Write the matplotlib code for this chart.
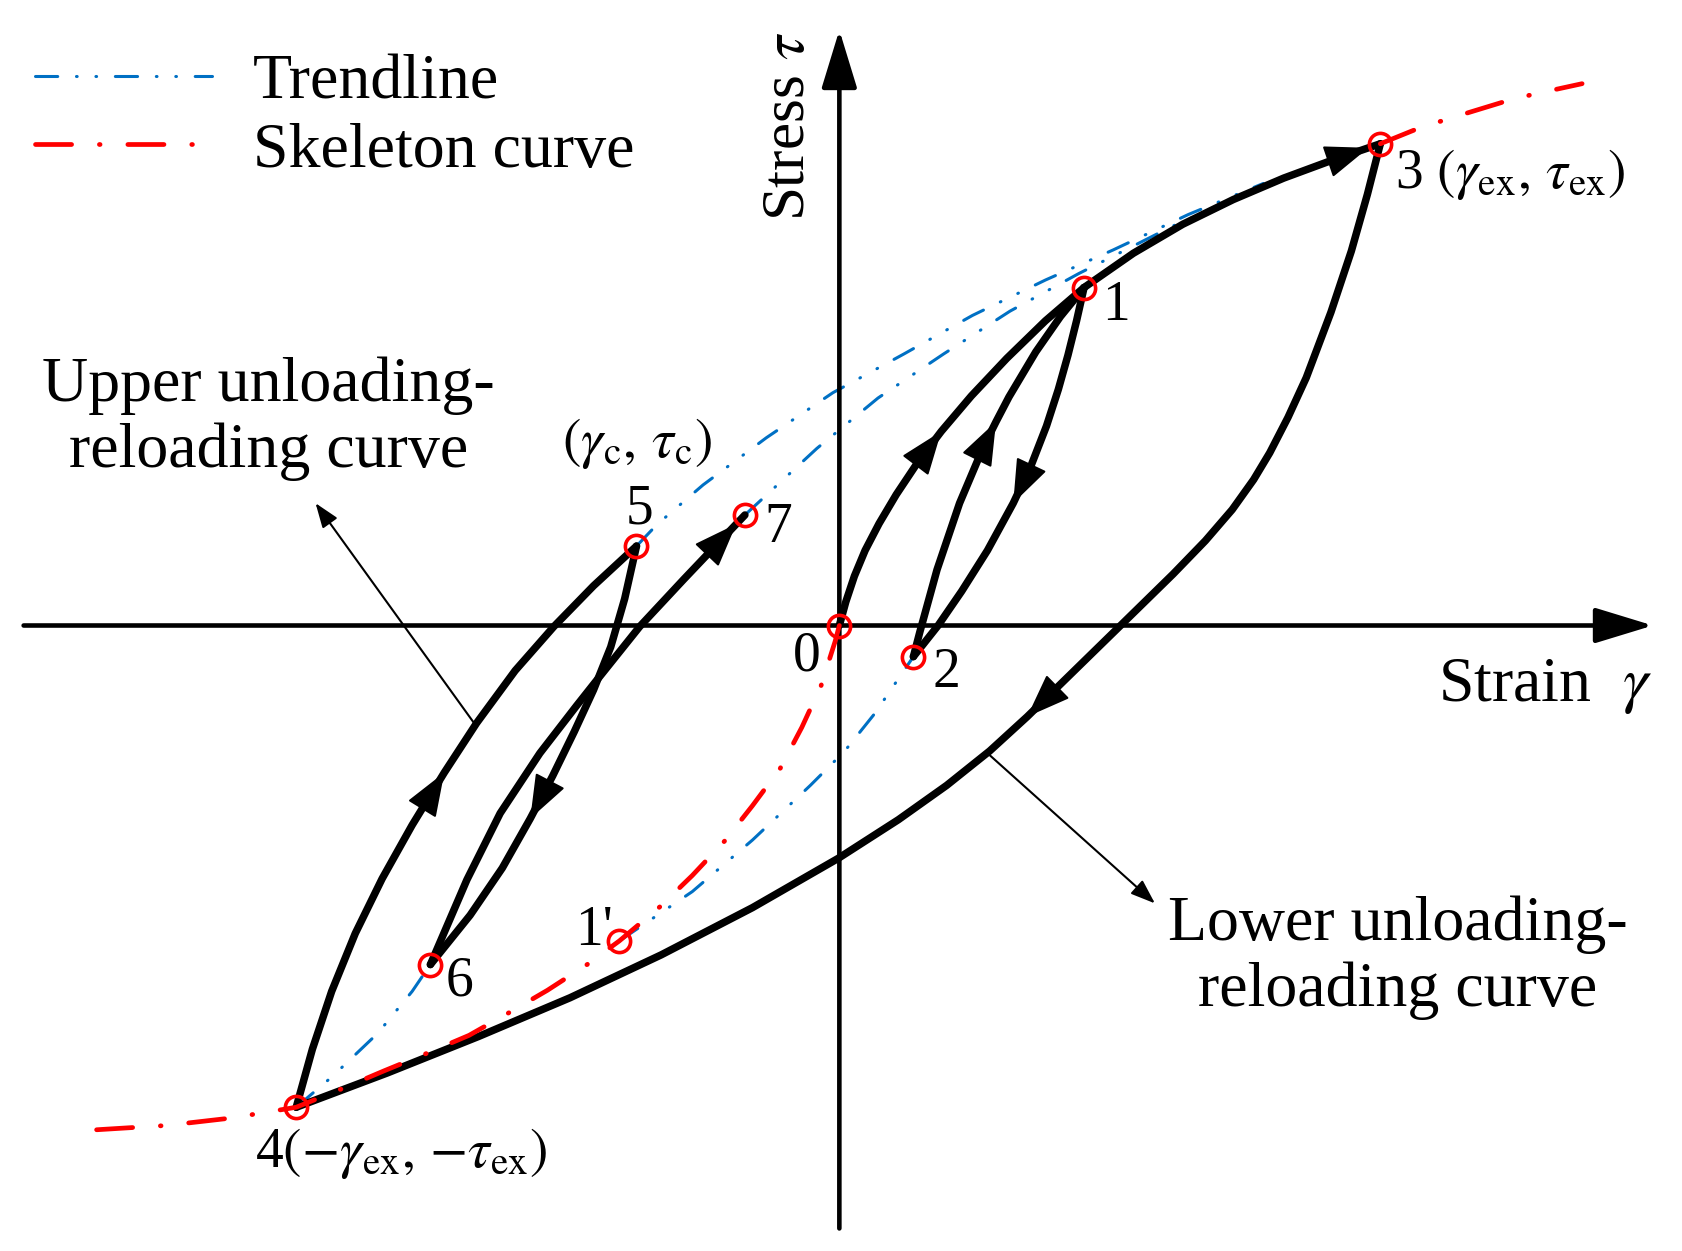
import numpy as np
import matplotlib.pyplot as plt

plt.rcParams['font.family'] = ['Liberation Serif', 'DejaVu Serif']
plt.rcParams['mathtext.fontset'] = 'stix'
plt.rcParams['lines.scale_dashes'] = False

# ------------------------------------------------------------
# schematic data (strain gamma, stress tau), arbitrary units
# ------------------------------------------------------------
pt_names = ['0', '1', '2', '3', '4', '5', '6', '7', "1'"]
pt_gamma = [0.00, 2.28, 0.69, 5.04, -5.06, -1.89, -3.81, -0.88, -2.05]
pt_tau = [0.00, 3.15, -0.29, 4.49, -4.49, 0.74, -3.16, 1.03, -2.94]

# loading 0 -> 1
c01_g = [0.00, 0.06, 0.14, 0.24, 0.37, 0.53, 0.73, 0.95, 1.23, 1.56, 1.92, 2.28]
c01_t = [0.00, 0.22, 0.46, 0.70, 0.95, 1.22, 1.52, 1.81, 2.14, 2.49, 2.84, 3.15]
# unloading 1 -> 2
c12_g = [2.28, 2.21, 2.13, 2.04, 1.93, 1.79, 1.62, 1.38, 1.14, 0.92, 0.69]
c12_t = [3.15, 2.84, 2.52, 2.20, 1.86, 1.50, 1.14, 0.70, 0.32, 0.00, -0.29]
# reloading 2 -> 1
c21_g = [0.69, 0.75, 0.91, 1.12, 1.34, 1.46, 1.58, 1.83, 2.06, 2.28]
c21_t = [-0.29, -0.06, 0.52, 1.14, 1.66, 1.90, 2.13, 2.55, 2.88, 3.15]
# loading 1 -> 3
c13_g = [2.28, 2.74, 3.20, 3.67, 4.14, 4.60, 5.04]
c13_t = [3.15, 3.47, 3.74, 3.97, 4.17, 4.34, 4.49]
# unloading 3 -> 4
c34_g = [5.04, 4.92, 4.77, 4.58, 4.35, 4.18, 4.01, 3.86, 3.66, 3.41, 3.11, 2.63,
         2.19, 1.75, 1.40, 1.00, 0.55, -0.01, -0.81, -1.66, -2.51, -3.36, -4.21, -5.06]
c34_t = [4.49, 4.02, 3.49, 2.92, 2.31, 1.94, 1.61, 1.36, 1.08, 0.79, 0.48, 0.01,
         -0.42, -0.85, -1.17, -1.49, -1.81, -2.17, -2.63, -3.07, -3.47, -3.83, -4.17, -4.49]
# reloading 4 -> 5
c45_g = [-5.06, -4.91, -4.73, -4.51, -4.26, -3.98, -3.68, -3.38, -3.02, -2.66, -2.29, -1.89]
c45_t = [-4.49, -3.95, -3.41, -2.87, -2.36, -1.86, -1.37, -0.91, -0.42, -0.01, 0.37, 0.74]
# unloading 5 -> 6
c56_g = [-1.89, -2.00, -2.13, -2.29, -2.47, -2.67, -2.88, -3.14, -3.44, -3.81]
c56_t = [0.74, 0.25, -0.20, -0.60, -0.99, -1.40, -1.80, -2.26, -2.70, -3.16]
# reloading 6 -> 7
c67_g = [-3.81, -3.47, -3.16, -2.79, -2.45, -2.26, -1.86, -1.45, -0.88]
c67_t = [-3.16, -2.37, -1.75, -1.19, -0.75, -0.51, -0.01, 0.43, 1.03]

# skeleton curve (visible parts)
skn_g = [-6.92, -6.27, -5.66, -5.06, -4.64, -4.24, -3.85, -3.45, -3.08, -2.72, -2.35,
         -2.05, -1.67, -1.37, -1.07, -0.81, -0.55, -0.35, -0.17, -0.04, 0.00]
skn_t = [-4.70, -4.66, -4.59, -4.49, -4.32, -4.15, -3.99, -3.82, -3.61, -3.40, -3.16,
         -2.94, -2.62, -2.33, -2.01, -1.68, -1.33, -0.95, -0.56, -0.15, 0.00]
skp_g = [5.04, 5.41, 5.86, 6.22, 6.46, 6.92]
skp_t = [4.49, 4.64, 4.78, 4.89, 4.95, 5.05]

# trendlines
tra_g = [-1.89, -1.70, -1.27, -0.68, -0.06, 0.60, 1.24, 1.92, 2.55, 3.25, 3.95]
tra_t = [0.74, 0.94, 1.31, 1.75, 2.17, 2.53, 2.89, 3.22, 3.50, 3.83, 4.12]
trb_g = [-0.88, -0.21, 0.36, 0.97, 1.59, 2.23, 3.10, 3.95]
trb_t = [1.03, 1.65, 2.12, 2.53, 2.93, 3.28, 3.72, 4.10]
trc_g = [-5.06, -4.72, -4.30, -3.98, -3.81]
trc_t = [-4.49, -4.20, -3.80, -3.41, -3.16]
trd_g = [-2.05, -1.37, -0.81, -0.27, 0.05, 0.33, 0.69]
trd_t = [-2.94, -2.48, -2.00, -1.49, -1.17, -0.82, -0.29]

# pointer arrows for the two curve names (tail, head)
ann_upper = [(-3.41, -0.90), (-4.88, 1.14)]
ann_lower = [(1.38, -1.19), (2.94, -2.59)]

# ------------------------------------------------------------
fig = plt.figure(figsize=(16.83, 12.51), dpi=100)
ax = fig.add_axes([0, 0, 1, 1])
ax.set_xlim(-7.82, 7.86)
ax.set_ylim(-5.83, 5.83)
ax.axis('off')

blue = '#0070C4'
red = '#FF0000'
lw_curve = 5.4

# axes with arrow heads
for tail, tip in [((-7.60, 0), (7.58, 0)), ((0, -5.62), (0, 5.55))]:
    ax.annotate('', xy=tip, xytext=tail,
                arrowprops=dict(arrowstyle='-|>,head_length=36,head_width=11', mutation_scale=1,
                                color='k', lw=3.3, shrinkA=0, shrinkB=0))

# trendlines
tr_style = dict(color=blue, lw=2.2, ls=(0, (16, 13.5, 0.5, 13.5, 0.5, 13.5)),
                dash_capstyle='round', zorder=2)
trend, = ax.plot(tra_g, tra_t, label='Trendline', **tr_style)
ax.plot(trb_g, trb_t, **tr_style)
ax.plot(trc_g, trc_t, **tr_style)
ax.plot(trd_g, trd_t, **tr_style)

# hysteresis curves: (gamma, tau, index of arrow tip, shrink at tip)
curves = [(c01_g, c01_t, 7, 0), (c21_g, c21_t, 5, 0), (c12_g, c12_t, 6, 0),
          (c13_g, c13_t, -1, 9), (c34_g, c34_t, 13, 0), (c45_g, c45_t, 6, 0),
          (c56_g, c56_t, 6, 0), (c67_g, c67_t, -1, 9)]
for g, t, k, shr in curves:
    ax.plot(g, t, color='k', lw=lw_curve, solid_joinstyle='round', solid_capstyle='round', zorder=3)
    k = k % len(g)
    ax.annotate('', xy=(g[k], t[k]), xytext=(g[k - 1], t[k - 1]),
                arrowprops=dict(arrowstyle='-|>,head_length=28,head_width=10.5', mutation_scale=1,
                                color='k', lw=1.5, shrinkA=0, shrinkB=shr), zorder=3)

# skeleton curve
sk_style = dict(color=red, lw=3.4, ls=(0, (26, 20, 0.5, 20)), dash_capstyle='round', zorder=4)
skel, = ax.plot(skn_g, skn_t, label='Skeleton curve', **sk_style)
ax.plot(skp_g, skp_t, **sk_style)

# characteristic points
ax.plot(pt_gamma, pt_tau, 'o', ms=16, mfc='none', mec=red, mew=2.6, zorder=6)

# pointer arrows
for (x0, y0), (x1, y1) in [ann_upper, ann_lower]:
    ax.annotate('', xy=(x1, y1), xytext=(x0, y0),
                arrowprops=dict(arrowstyle='-|>,head_length=15,head_width=5.5', mutation_scale=1,
                                color='k', lw=1.5, shrinkA=0, shrinkB=0))

# labels
fs_big = 46
fs_pt = 40
ax.text(-0.47, 4.65, r'Stress $\tau$', rotation=90, ha='center', va='center', fontsize=44)
ax.text(5.58, -0.57, r'Strain  $\gamma$', ha='left', va='center', fontsize=fs_big)
ax.text(-5.32, 1.93, 'Upper unloading-\nreloading curve', ha='center', va='center',
        multialignment='center', fontsize=fs_big, linespacing=1.17)
ax.text(5.20, -3.10, 'Lower unloading-\nreloading curve', ha='center', va='center',
        multialignment='center', fontsize=fs_big, linespacing=1.17)

pt_text = {'0': (-0.30, -0.29), '1': (2.58, 2.98), '2': (1.00, -0.44), '5': (-1.86, 1.08),
           '7': (-0.57, 0.91), '6': (-3.54, -3.32), "1'": (-2.29, -2.85)}
for s, (x, y) in pt_text.items():
    ax.text(x, y, s, ha='center', va='center', fontsize=fs_pt)
ax.text(5.18, 4.20, r'3 $(\gamma_{\mathrm{ex}},\,\tau_{\mathrm{ex}})$', ha='left', va='center', fontsize=fs_pt)
ax.text(-5.44, -4.92, r'4$(-\gamma_{\mathrm{ex}},\,{-}\tau_{\mathrm{ex}})$', ha='left', va='center', fontsize=fs_pt)
ax.text(-1.89, 1.70, r'$(\gamma_{\mathrm{c}},\,\tau_{\mathrm{c}})$', ha='center', va='center', fontsize=fs_pt)

ax.legend(handles=[trend, skel], loc='upper left', bbox_to_anchor=(0.021, 0.957),
          frameon=False, fontsize=fs_big, handlelength=2.77, handletextpad=0.63,
          labelspacing=0.15, borderpad=0, borderaxespad=0)

fig.savefig('out.png', dpi=100)
